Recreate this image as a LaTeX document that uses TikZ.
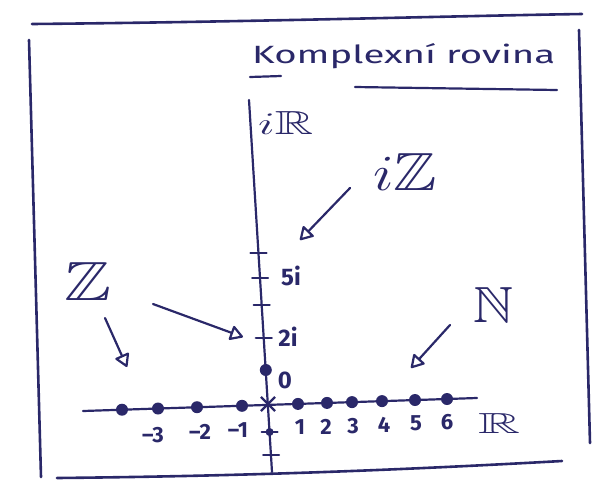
\documentclass[tikz,border=0pt]{standalone}
\usepackage{fontspec}
\setmainfont{Fira Sans}
\usepackage{amssymb}
\usepackage{graphicx}
\usetikzlibrary{arrows.meta,shapes.misc}
\definecolor{ink}{RGB}{42,40,105}
\tikzset{
  inkline/.style={draw=ink, line width=2.2pt, line cap=round, line join=round},
  framestroke/.style={draw=ink, line width=2.6pt, line cap=round},
  dotnode/.style={circle, fill=ink, inner sep=0pt, minimum size=12pt},
  smalldot/.style={circle, fill=ink, inner sep=0pt, minimum size=8pt},
  lbl/.style={text=ink, inner sep=0pt, font=\fontsize{22}{22}\selectfont\bfseries},
  pointer/.style={inkline, -{Triangle[open, length=14pt, width=16pt, line width=2.2pt, round]}},
}
\begin{document}
\begin{tikzpicture}[x=1pt,y=-1pt]
\useasboundingbox (0,0) rectangle (592,483);
% frame
\coordinate (ftl) at (32,24);
\coordinate (ftr) at (582,14);
\coordinate (flt) at (29,40);
\coordinate (flb) at (41,477);
\coordinate (fbl) at (57,478);
\coordinate (fbr) at (562,461);
\coordinate (frt) at (579,30);
\coordinate (frb) at (590,443);
\draw[framestroke] (ftl) .. controls (250,22) and (450,16) .. (ftr);
\draw[framestroke] (flt) -- (flb);
\draw[framestroke] (fbl) .. controls (250,476) and (400,470) .. (fbr);
\draw[framestroke] (frt) -- (frb);
% title
\node[lbl, font=\fontsize{22}{22}\selectfont, anchor=base west] (title) at (252,63) {\resizebox{303pt}{20pt}{Komplexní rovina}};
\coordinate (u1a) at (250,77); \coordinate (u1b) at (281,76);
\draw[inkline] (u1a) -- (u1b);
\coordinate (u2a) at (355,87); \coordinate (u2b) at (557,90);
\draw[inkline] (u2a) -- (u2b);
% axes
\coordinate (vtop) at (249,100);
\coordinate (vbot) at (272,472);
\coordinate (hleft) at (83,411);
\coordinate (hright) at (477,398);
\draw[inkline] (vtop) -- (vbot);
\draw[inkline] (hleft) -- (hright);
\node[lbl, anchor=south west] (iR) at (258,135) {\resizebox{55pt}{23pt}{$i\mathbb{R}$}};
\node[lbl] (Rlab) at (499,423) {\resizebox{42pt}{20pt}{$\mathbb{R}$}};
% origin
\node[cross out, draw=ink, line width=2.2pt, minimum size=12pt, inner sep=0pt] (origin) at (268,404) {};
% vertical ticks
\coordinate (t1) at (258.5,253);
\coordinate (t2) at (260.1,278);
\coordinate (t3) at (261.7,305);
\coordinate (t4) at (263.8,338);
\coordinate (t5) at (269.6,432);
\coordinate (t6) at (271.1,455);
\foreach \t in {t1,t2,t3,t4,t5,t6} \draw[inkline] (\t) +(-8,0) -- +(8,0);
\node[smalldot] (dm1) at (t5) {};
\node[dotnode] (d0) at (265.8,370) {};
\node[lbl, font=\fontsize{24}{24}\selectfont\bfseries] (l0) at (285,380) {0};
\node[lbl, font=\fontsize{24}{24}\selectfont\bfseries] (l5i) at (291,276) {5i};
\node[lbl, font=\fontsize{24}{24}\selectfont\bfseries] (l2i) at (288,337) {2i};
% horizontal dots
\node[dotnode] (dn4) at (122,409.7) {};
\node[dotnode] (dn3) at (158,408.5) {};
\node[dotnode] (dn2) at (197,407.2) {};
\node[dotnode] (dn1) at (242,405.8) {};
\node[dotnode] (dp1) at (298,403.9) {};
\node[dotnode] (dp2) at (327,402.9) {};
\node[dotnode] (dp3) at (352,402.1) {};
\node[dotnode] (dp4) at (382,401.1) {};
\node[dotnode] (dp5) at (415,400) {};
\node[dotnode] (dp6) at (447,399) {};
% numbers
\node[lbl] (ln3) at (153,435) {–3};
\node[lbl] (ln2) at (200,432) {–2};
\node[lbl] (ln1) at (238,430) {–1};
\node[lbl] (lp1) at (300,427) {1};
\node[lbl] (lp2) at (326,427) {2};
\node[lbl] (lp3) at (353,426) {3};
\node[lbl] (lp4) at (384,425) {4};
\node[lbl] (lp5) at (416,423) {5};
\node[lbl] (lp6) at (447,422) {6};
% set labels
\node[lbl] (iZ) at (405,172) {\resizebox{64pt}{37pt}{$i\mathbb{Z}$}};
\node[lbl] (Zlab) at (88,281) {\resizebox{47pt}{38pt}{$\mathbb{Z}$}};
\node[lbl] (Nlab) at (493,305) {\resizebox{40pt}{35pt}{$\mathbb{N}$}};
% pointers
\coordinate (aiz1) at (350,188); \coordinate (aiz2) at (300,240);
\coordinate (az1) at (105,318);  \coordinate (az2) at (127,367);
\coordinate (azr1) at (153,304); \coordinate (azr2) at (243,337);
\coordinate (an1) at (450,325);  \coordinate (an2) at (411,368);
\draw[pointer] (aiz1) -- (aiz2);
\draw[pointer] (az1) -- (az2);
\draw[pointer] (azr1) -- (azr2);
\draw[pointer] (an1) -- (an2);
\end{tikzpicture}
\end{document}
